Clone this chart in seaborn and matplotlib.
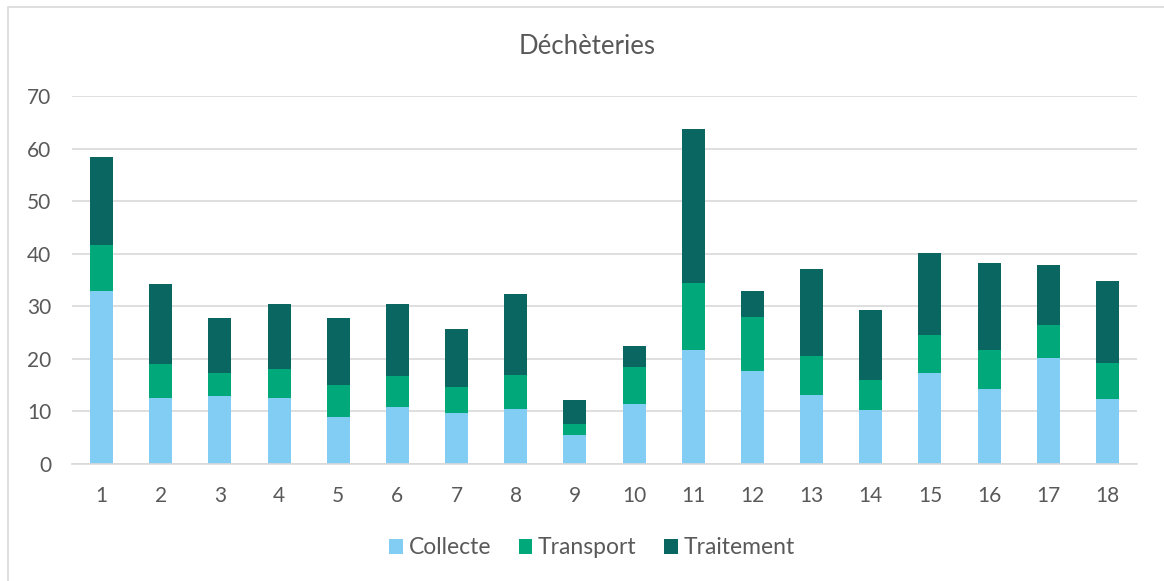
import numpy as np
import pandas as pd
import matplotlib
matplotlib.use("Agg")
import matplotlib.pyplot as plt
import seaborn as sns
from matplotlib.patches import Rectangle

categories = [str(i) for i in range(1, 19)]
collecte = [33.0, 12.5, 12.9, 12.6, 9.0, 10.9, 9.7, 10.4, 5.5, 11.4, 21.7, 17.7, 13.1, 10.3, 17.3, 14.3, 20.1, 12.3]
transport = [8.7, 6.6, 4.5, 5.4, 6.0, 5.9, 5.0, 6.6, 2.1, 7.1, 12.7, 10.3, 7.4, 5.7, 7.3, 7.3, 6.3, 6.9]
traitement = [16.7, 15.1, 10.3, 12.5, 12.8, 13.6, 11.0, 15.3, 4.6, 4.0, 29.3, 5.0, 16.6, 13.2, 15.5, 16.6, 11.5, 15.6]
series_names = ["Collecte", "Transport", "Traitement"]
colors = ["#82CDF3", "#00A87A", "#0A6660"]

df = pd.DataFrame({"cat": categories, "Collecte": collecte,
                   "Transport": transport, "Traitement": traitement})

sns.set_theme(style="white")
plt.rcParams["font.family"] = ["Lato", "DejaVu Sans"]
text_color = "#595959"

fig = plt.figure(figsize=(11.64, 5.81), dpi=100)
ax = fig.add_axes([72/1164, 1-464/581, (1137-72)/1164, (464-96)/581])

bottom = np.zeros(len(categories))
for name, col in zip(series_names, colors):
    sns.barplot(data=df, x="cat", y=name, color=col, bottom=bottom, width=0.39,
                ax=ax, label=name, saturation=1, linewidth=0, order=categories)
    bottom = bottom + df[name].values

ax.set_ylim(0, 70)
ax.set_xlim(-0.5, len(categories) - 0.5)
ax.set_yticks(range(0, 71, 10))
ax.yaxis.grid(True, color="#D9D9D9", linewidth=1.2)
ax.set_axisbelow(True)
for s in ["top", "right", "left"]:
    ax.spines[s].set_visible(False)
ax.spines["bottom"].set_color("#D9D9D9")
ax.spines["bottom"].set_linewidth(1.2)
ax.set_xlabel("")
ax.set_ylabel("")
ax.tick_params(axis="both", length=0, labelsize=15, labelcolor=text_color)
ax.tick_params(axis="y", pad=15)
ax.tick_params(axis="x", pad=16)
if ax.get_legend() is not None:
    ax.get_legend().remove()

fig.text(587/1164, 1-46/581, "Déchèteries", ha="center", va="center",
         fontsize=18.5, color=text_color)

handles, labels = ax.get_legend_handles_labels()
fig.legend(handles, labels, loc="center", bbox_to_anchor=(592/1164, 1-548/581),
           ncol=3, frameon=False, fontsize=16.5, labelcolor=text_color,
           handlelength=0.6, handleheight=0.6, handletextpad=0.25, columnspacing=1.2)

fig.patches.append(Rectangle((8/1164, -0.1), 1.2, 1-7/581+0.1, transform=fig.transFigure,
                             fill=False, edgecolor="#D9D9D9", linewidth=1.2))

fig.savefig("out.png", dpi=100)
